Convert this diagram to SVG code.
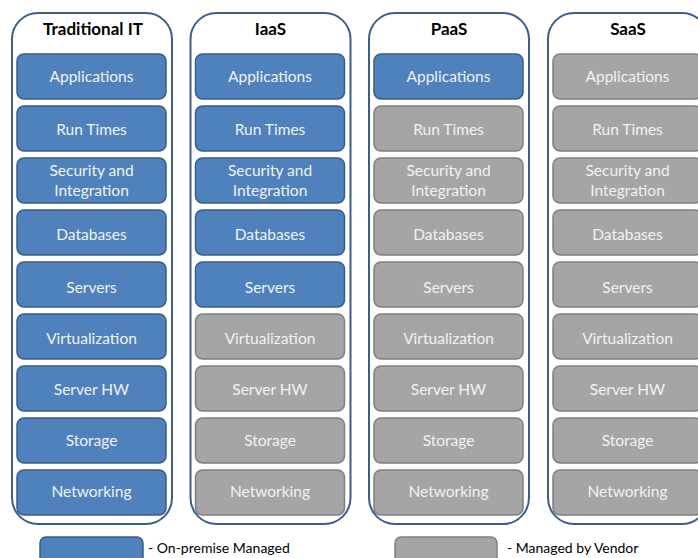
<svg xmlns="http://www.w3.org/2000/svg" width="698" height="558" viewBox="0 0 698 558">
<style>
.col{fill:#fff;stroke:#3a5f8b;stroke-width:2}
.b{fill:#4f81bd;stroke:#385d8a;stroke-width:1.5}
.g{fill:#a5a5a5;stroke:#7f7f7f;stroke-width:1.5}
.t{font-family:Lato,"Open Sans",sans-serif;font-size:15.5px;fill:#f2f2f2;text-anchor:middle}
.h{font-family:Lato,"Open Sans",sans-serif;font-size:17px;font-weight:bold;fill:#000;text-anchor:middle}
.l{font-family:Lato,"Open Sans",sans-serif;font-size:14px;fill:#000}
</style>
<defs>
<rect id="box" x="0" y="0" width="149" height="45" rx="7"/>
</defs>
<rect width="698" height="558" fill="#fff"/>

<g id="col-traditional">
<rect class="col" x="12" y="13" width="160" height="511" rx="26"/>
<text class="h" x="93" y="35">Traditional IT</text>
<g class="b"><use href="#box" x="17" y="54"/><use href="#box" x="17" y="106"/><use href="#box" x="17" y="158"/><use href="#box" x="17" y="210"/><use href="#box" x="17" y="262"/><use href="#box" x="17" y="314"/><use href="#box" x="17" y="366"/><use href="#box" x="17" y="418"/><use href="#box" x="17" y="470"/></g>
<g class="t"><text x="91.5" y="82">Applications</text><text x="91.5" y="135">Run Times</text><text x="91.5" y="176">Security and</text><text x="91.5" y="196">Integration</text><text x="91.5" y="240">Databases</text><text x="91.5" y="293">Servers</text><text x="91.5" y="344">Virtualization</text><text x="91.5" y="395">Server HW</text><text x="91.5" y="446">Storage</text><text x="91.5" y="497">Networking</text></g>
</g>

<g id="col-iaas">
<rect class="col" x="190.5" y="13" width="160" height="511" rx="26"/>
<text class="h" x="270.5" y="35">IaaS</text>
<g class="b"><use href="#box" x="195.5" y="54"/><use href="#box" x="195.5" y="106"/><use href="#box" x="195.5" y="158"/><use href="#box" x="195.5" y="210"/><use href="#box" x="195.5" y="262"/></g>
<g class="g"><use href="#box" x="195.5" y="314"/><use href="#box" x="195.5" y="366"/><use href="#box" x="195.5" y="418"/><use href="#box" x="195.5" y="470"/></g>
<g class="t"><text x="270" y="82">Applications</text><text x="270" y="135">Run Times</text><text x="270" y="176">Security and</text><text x="270" y="196">Integration</text><text x="270" y="240">Databases</text><text x="270" y="293">Servers</text><text x="270" y="344">Virtualization</text><text x="270" y="395">Server HW</text><text x="270" y="446">Storage</text><text x="270" y="497">Networking</text></g>
</g>

<g id="col-paas">
<rect class="col" x="369" y="13" width="160" height="511" rx="26"/>
<text class="h" x="449" y="35">PaaS</text>
<g class="b"><use href="#box" x="374" y="54"/></g>
<g class="g"><use href="#box" x="374" y="106"/><use href="#box" x="374" y="158"/><use href="#box" x="374" y="210"/><use href="#box" x="374" y="262"/><use href="#box" x="374" y="314"/><use href="#box" x="374" y="366"/><use href="#box" x="374" y="418"/><use href="#box" x="374" y="470"/></g>
<g class="t"><text x="448.5" y="82">Applications</text><text x="448.5" y="135">Run Times</text><text x="448.5" y="176">Security and</text><text x="448.5" y="196">Integration</text><text x="448.5" y="240">Databases</text><text x="448.5" y="293">Servers</text><text x="448.5" y="344">Virtualization</text><text x="448.5" y="395">Server HW</text><text x="448.5" y="446">Storage</text><text x="448.5" y="497">Networking</text></g>
</g>

<g id="col-saas">
<rect class="col" x="548" y="13" width="160" height="511" rx="26"/>
<text class="h" x="628" y="35">SaaS</text>
<g class="g"><use href="#box" x="553" y="54"/><use href="#box" x="553" y="106"/><use href="#box" x="553" y="158"/><use href="#box" x="553" y="210"/><use href="#box" x="553" y="262"/><use href="#box" x="553" y="314"/><use href="#box" x="553" y="366"/><use href="#box" x="553" y="418"/><use href="#box" x="553" y="470"/></g>
<g class="t"><text x="627.5" y="82">Applications</text><text x="627.5" y="135">Run Times</text><text x="627.5" y="176">Security and</text><text x="627.5" y="196">Integration</text><text x="627.5" y="240">Databases</text><text x="627.5" y="293">Servers</text><text x="627.5" y="344">Virtualization</text><text x="627.5" y="395">Server HW</text><text x="627.5" y="446">Storage</text><text x="627.5" y="497">Networking</text></g>
</g>

<g id="legend-onprem">
<rect class="b" x="40" y="537" width="103" height="30" rx="6"/>
<text class="l" x="148" y="553">- On-premise Managed</text>
</g>
<g id="legend-vendor">
<rect class="g" x="395" y="537" width="102" height="30" rx="6"/>
<text class="l" x="507" y="553">- Managed by Vendor</text>
</g>
<g id="connectors"></g>
</svg>
